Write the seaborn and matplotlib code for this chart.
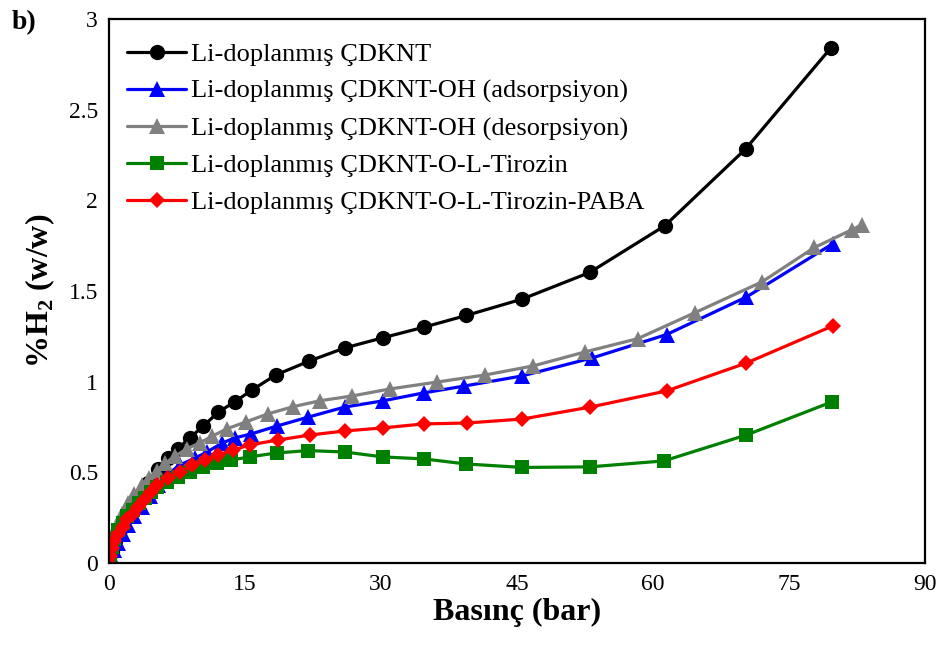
import matplotlib
matplotlib.use("Agg")
import matplotlib.pyplot as plt
import pandas as pd
import seaborn as sns

# Values (pressure in bar, %H2 w/w)
x_cdknt = [0, 0.3, 0.7, 1.2, 1.8, 2.5, 3.3, 4.3, 5.4, 6.5, 7.6, 8.9, 10.4, 12.0, 13.9,
           15.8, 18.4, 22.1, 26.0, 30.2, 34.7, 39.4, 45.6, 53.0, 61.3, 70.2, 79.6]
y_cdknt = [0, 0.06, 0.12, 0.18, 0.24, 0.30, 0.36, 0.44, 0.52, 0.58, 0.63, 0.69, 0.755, 0.83, 0.89,
           0.955, 1.037, 1.114, 1.186, 1.242, 1.30, 1.365, 1.456, 1.602, 1.86, 2.283, 2.84]

x_oh_ads = [0, 0.3, 0.6, 1.0, 1.5, 2.1, 2.8, 3.6, 4.5, 5.4, 6.5, 7.8, 9.5, 10.8, 12.5, 13.9,
            15.7, 18.5, 22.0, 26.0, 30.2, 34.7, 39.2, 45.5, 53.3, 61.5, 70.3, 79.8]
y_oh_ads = [0, 0.03, 0.07, 0.11, 0.16, 0.21, 0.26, 0.31, 0.37, 0.43, 0.49, 0.54, 0.579, 0.612, 0.662, 0.69,
            0.712, 0.755, 0.805, 0.86, 0.894, 0.938, 0.976, 1.031, 1.131, 1.26, 1.467, 1.76]

x_oh_des = [83.0, 81.9, 77.8, 72.0, 64.6, 58.3, 52.5, 46.8, 41.5, 36.2, 31.0, 26.8, 23.3, 20.3,
            17.5, 15.1, 13.0, 11.4, 10.0, 8.6, 7.3, 6.2, 5.3, 4.4, 3.6, 2.8, 2.1, 1.4, 0.8, 0.4]
y_oh_des = [1.864, 1.837, 1.74, 1.55, 1.38, 1.237, 1.164, 1.087, 1.037, 0.998, 0.96, 0.921, 0.895, 0.862,
            0.822, 0.778, 0.74, 0.70, 0.662, 0.63, 0.59, 0.55, 0.51, 0.47, 0.43, 0.38, 0.33, 0.27, 0.20, 0.14]

x_tyr = [0, 0.1, 0.3, 0.6, 1.0, 1.5, 2.0, 2.6, 3.3, 4.0, 4.6, 5.3, 6.4, 7.6, 8.9, 10.4, 11.9,
         13.5, 15.5, 18.5, 22.0, 26.0, 30.2, 34.7, 39.4, 45.6, 53.0, 61.2, 70.3, 79.7]
y_tyr = [0, 0.04, 0.09, 0.13, 0.18, 0.22, 0.26, 0.29, 0.33, 0.36, 0.39, 0.42, 0.447, 0.474, 0.502, 0.53, 0.552,
         0.568, 0.585, 0.607, 0.62, 0.612, 0.585, 0.574, 0.546, 0.527, 0.53, 0.563, 0.706, 0.888]

x_paba = [0, 0.1, 0.3, 0.6, 1.0, 1.5, 2.0, 2.6, 3.2, 3.9, 4.6, 5.3, 6.5, 7.8, 9.2, 10.6, 12.0,
          13.7, 15.5, 18.6, 22.2, 26.0, 30.2, 34.7, 39.5, 45.6, 53.1, 61.5, 70.3, 79.8]
y_paba = [0, 0.04, 0.08, 0.12, 0.16, 0.20, 0.24, 0.27, 0.31, 0.35, 0.39, 0.43, 0.47, 0.50, 0.54, 0.568, 0.596,
          0.623, 0.651, 0.678, 0.706, 0.728, 0.745, 0.767, 0.772, 0.794, 0.86, 0.949, 1.103, 1.307]

series = [
    ("Li-doplanmış ÇDKNT", x_cdknt, y_cdknt, "black", "o", 11),
    ("Li-doplanmış ÇDKNT-OH (adsorpsiyon)", x_oh_ads, y_oh_ads, "blue", "^", 11.5),
    ("Li-doplanmış ÇDKNT-OH (desorpsiyon)", x_oh_des, y_oh_des, "gray", "^", 11.5),
    ("Li-doplanmış ÇDKNT-O-L-Tirozin", x_tyr, y_tyr, "green", "s", 10.5),
    ("Li-doplanmış ÇDKNT-O-L-Tirozin-PABA", x_paba, y_paba, "red", "D", 8.5),
]

sns.set_theme(style="white")
plt.rcParams["font.family"] = ["Liberation Serif", "DejaVu Serif"]
plt.rcParams["mathtext.fontset"] = "custom"
plt.rcParams["mathtext.rm"] = "Liberation Serif"
plt.rcParams["mathtext.bf"] = "Liberation Serif:bold"
plt.rcParams["text.color"] = "black"
plt.rcParams["axes.labelcolor"] = "black"
plt.rcParams["xtick.color"] = "black"
plt.rcParams["ytick.color"] = "black"

fig = plt.figure(figsize=(9.43, 6.46), dpi=100)
ax = fig.add_axes([0.1156, 0.1285, 0.8654, 0.8421])

for name, xs, ys, color, marker, ms in series:
    df = pd.DataFrame({"p": xs, "h2": ys})
    sns.lineplot(data=df, x="p", y="h2", sort=False, color=color, marker=marker,
                 markersize=ms, markeredgewidth=0, linewidth=2.3, label=name, ax=ax)

ax.set_xlim(0, 90)
ax.set_ylim(0, 3)
ax.set_xticks(range(0, 91, 15))
ax.set_yticks([0, 0.5, 1, 1.5, 2, 2.5, 3])
ax.set_yticklabels(["0", "0.5", "1", "1.5", "2", "2.5", "3"])
ax.tick_params(axis="both", length=0, labelsize=17, pad=8, colors="black")

ax.set_xlabel("Basınç (bar)", fontsize=23, fontweight="bold", labelpad=2)
ax.set_ylabel(r"%H$_\mathbf{2}$ (w/w)", fontsize=23, fontweight="bold", labelpad=8)

for side in ["top", "right", "left", "bottom"]:
    ax.spines[side].set_color("black")
    ax.spines[side].set_linewidth(1.6)

leg = ax.legend(loc="upper left", frameon=False, fontsize=19, handlelength=2.2,
                labelspacing=0.5, handletextpad=0.2, borderaxespad=0.3,
                bbox_to_anchor=(0.0, 0.99))

fig.text(0.012, 0.955, "b)", fontsize=20, fontweight="bold")

fig.savefig("out.png", dpi=100)
